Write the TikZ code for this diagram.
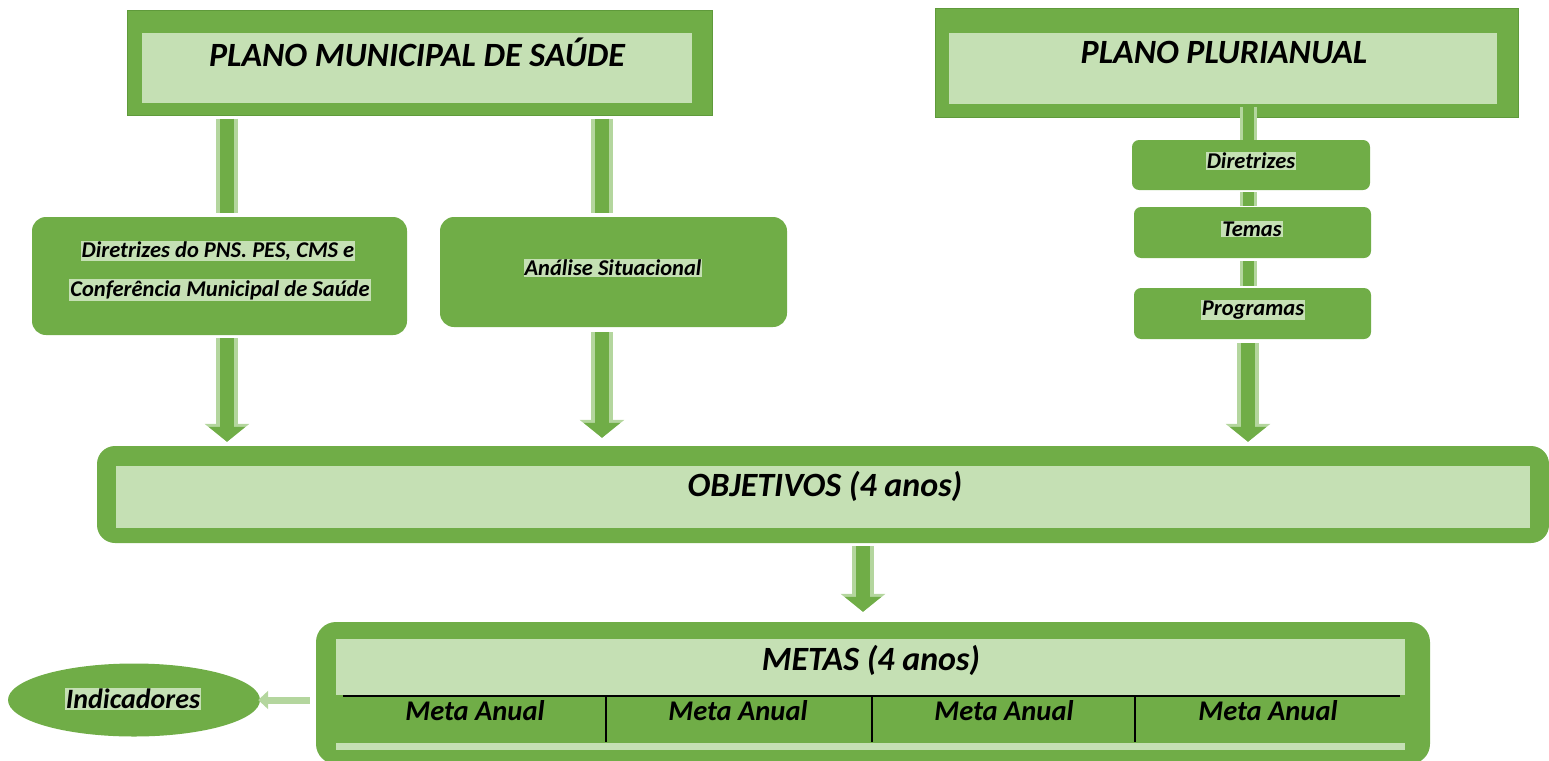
\documentclass[tikz,border=0pt]{standalone}
\usepackage{fontspec}
\setmainfont{Carlito}
\usetikzlibrary{arrows.meta,shapes.geometric}
\definecolor{dkg}{HTML}{70AD47}
\definecolor{ltg}{HTML}{C5E0B4}
\definecolor{edg}{HTML}{5F9A3B}
\tikzset{
  outerbox/.style={draw=edg, line width=1pt, fill=dkg, minimum width=#1},
  innerbox/.style={fill=ltg, inner sep=0pt},
  roundbox/.style={fill=dkg, rounded corners=14pt, inner sep=0pt},
  hl/.style={fill=ltg, inner sep=1pt, font=\bfseries\itshape\fontsize{22.5}{25}\selectfont},
  title/.style={inner sep=0pt, font=\bfseries\itshape\fontsize{34}{38}\selectfont},
  bar/.style={line width=14pt, draw=dkg, preaction={draw=ltg!80!dkg, line width=22pt}},
  thinbar/.style={line width=11pt, draw=dkg, preaction={draw=ltg!80!dkg, line width=17pt}},
  fat/.style={line width=14pt, draw=dkg, -{Triangle[width=36pt, length=15pt]},
    preaction={draw=ltg!80!dkg, line width=22pt, -{Triangle[width=44pt, length=18pt]}}},
  small/.style={line width=7pt, draw=ltg!80!dkg, -{Triangle[width=18pt, length=10pt]}},
  sepline/.style={draw=black, line width=1.3pt},
  cell/.style={inner sep=0pt, font=\bfseries\itshape\fontsize{28.5}{32}\selectfont},
}
\begin{document}
\begin{tikzpicture}[x=1pt,y=-1pt]
\useasboundingbox (0,0) rectangle (1549,760);
% top boxes
\node[outerbox=585pt, minimum height=104pt] (pms) at (419.5,63) {};
\node[innerbox, minimum width=550pt, minimum height=70pt] (pmsin) at (417,68) {};
\node[title] (pmst) at (417,52) {PLANO MUNICIPAL DE SAÚDE};
\node[outerbox=583pt, minimum height=108pt] (ppa) at (1226.5,63) {};
\node[innerbox, minimum width=548pt, minimum height=71pt] (ppain) at (1223,68.5) {};
\node[title] (ppat) at (1224,52) {PLANO PLURIANUAL};
% second level
\node[roundbox, minimum width=375pt, minimum height=118pt] (dir) at (219.5,276) {};
\node[hl] (dir1) at (218,251) {Diretrizes do PNS. PES, CMS e};
\node[hl] (dir2) at (220,290) {Conferência Municipal de Saúde};
\node[roundbox, minimum width=347pt, minimum height=110pt] (ana) at (613.5,272) {};
\node[hl] (anat) at (613,268) {Análise Situacional};
\node[roundbox, rounded corners=7pt, minimum width=238pt, minimum height=50pt] (pp1) at (1251,165) {};
\node[hl] (pp1t) at (1251,161) {Diretrizes};
\node[roundbox, rounded corners=7pt, minimum width=237pt, minimum height=51pt] (pp2) at (1252.5,232.5) {};
\node[hl] (pp2t) at (1252,229) {Temas};
\node[roundbox, rounded corners=7pt, minimum width=237pt, minimum height=51pt] (pp3) at (1252.5,313.5) {};
\node[hl] (pp3t) at (1253,310) {Programas};
% objetivos
\node[roundbox, rounded corners=18pt, minimum width=1452pt, minimum height=97pt] (obj) at (823,494.5) {};
\node[innerbox, minimum width=1414pt, minimum height=62pt] (objin) at (823,497) {};
\node[title] (objt) at (825,486) {OBJETIVOS (4 anos)};
% metas
\node[roundbox, rounded corners=20pt, minimum width=1114pt, minimum height=142pt] (met) at (873,693) {};
\node[innerbox, minimum width=1069pt, minimum height=56pt] (metin) at (870.5,667) {};
\node[title] (mett) at (871,660) {METAS (4 anos)};
\node[innerbox, minimum width=1069pt, minimum height=7pt] (metbot) at (870.5,746.5) {};
\coordinate (a0) at (343,696);
\coordinate (a4) at (1400,696);
\coordinate (v1) at (606,696);
\coordinate (v2) at (872,696);
\coordinate (v3) at (1135,696);
\draw[sepline] (a0) -- (a4);
\foreach \v in {v1,v2,v3} \draw[sepline] (\v) -- ++(0,46);
\foreach \cx/\nm in {475/m1,738/m2,1004/m3,1268/m4}
  \node[cell] (\nm) at (\cx,711) {Meta Anual};
% indicadores
\node[ellipse, fill=dkg, minimum width=252pt, minimum height=73pt, inner sep=0pt] (ind) at (134,700) {};
\node[hl, font=\bfseries\itshape\fontsize{28}{32}\selectfont] (indt) at (133,699) {Indicadores};
% connectors
\coordinate (xL) at (227,0);
\coordinate (xR) at (602,0);
\coordinate (xP) at (1248,0);
\coordinate (xO) at (863,0);
\draw[bar] (pms.south -| xL) ++(0,3) -- ([yshift=4pt]dir.north -| xL);
\draw[bar] (pms.south -| xR) ++(0,3) -- ([yshift=4pt]ana.north -| xR);
\draw[fat] (dir.south -| xL) ++(0,3) -- ([yshift=4pt]obj.north -| xL);
\draw[fat] (ana.south -| xR) ++(0,5) -- ([yshift=8pt]obj.north -| xR);
\draw[thinbar] (ppain.south -| xP) ++(0,3) -- (pp1.north -| xP);
\draw[thinbar] (pp1.south -| xP) ++(0,2) -- ([yshift=1pt]pp2.north -| xP);
\draw[thinbar] (pp2.south -| xP) ++(0,3) -- ([yshift=2pt]pp3.north -| xP);
\draw[fat] (pp3.south -| xP) ++(0,4) -- ([yshift=4pt]obj.north -| xP);
\draw[fat] (obj.south -| xO) ++(0,3) -- ([yshift=10pt]met.north -| xO);
\draw[small] (met.west |- ind) ++(-6,0) -- ([xshift=-2pt]ind.east);
\end{tikzpicture}
\end{document}
